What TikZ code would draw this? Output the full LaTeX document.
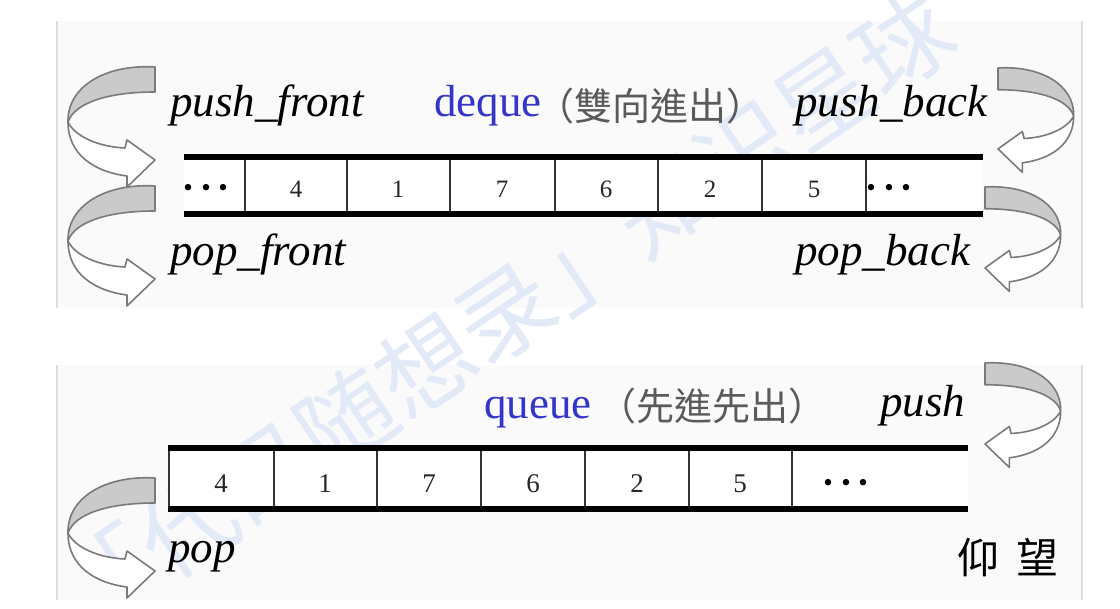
\documentclass[tikz,border=0pt]{standalone}
\usepackage{fontspec}
\setmainfont{Liberation Serif}
\newfontfamily\cjktc{Noto Sans CJK TC}
\newfontfamily\cjksc{Noto Sans CJK SC}
\definecolor{panelbg}{HTML}{FAFAFA}
\definecolor{paneledge}{HTML}{DEDEDE}
\definecolor{ribgray}{HTML}{CACACA}
\definecolor{ribline}{HTML}{7A7A7A}
\definecolor{titleblue}{HTML}{3535CC}
\definecolor{cjkgray}{HTML}{5A5A5A}
\definecolor{wmark}{HTML}{E2EAF8}
\definecolor{divider}{HTML}{333333}
\begin{document}
\begin{tikzpicture}[x=0.5pt,y=-0.5pt,
  ribbonback/.style={fill=ribgray,draw=ribline,line width=0.8pt,line join=round},
  ribbonfront/.style={fill=white,draw=ribline,line width=0.8pt,line join=round},
  oplabel/.style={font=\fontsize{22.5}{24}\selectfont\itshape,inner sep=0pt,anchor=base west},
  titlelbl/.style={font=\fontsize{22.5}{24}\selectfont,text=titleblue,inner sep=0pt,anchor=base west},
  cjklbl/.style={font=\cjktc\fontsize{19}{20}\selectfont,text=cjkgray,inner sep=0pt,anchor=base west},
  digitA/.style={font=\fontsize{12.5}{13}\selectfont,text=black!85,inner sep=0pt,anchor=base},
  digitB/.style={font=\fontsize{13.5}{14}\selectfont,text=black!85,inner sep=0pt,anchor=base},
  dotslbl/.style={font=\fontsize{27}{27}\selectfont,inner sep=0pt,anchor=base},
  railline/.style={line width=3pt,line cap=butt},
  cellline/.style={line width=0.75pt,draw=divider},
  curl/.pic={
    \path[ribbonback] (0,0) -- (0,25) .. controls (-45,25) and (-80,35) .. (-87,55)
       .. controls (-88,20) and (-50,-3) .. (0,0) -- cycle;
    \path[ribbonfront] (-87,55) .. controls (-80,70) and (-55,80) .. (-30,81)
       -- (-28,73) -- (0,93) -- (-28,120) -- (-28,109)
       .. controls (-60,105) and (-87,88) .. (-87,55) -- cycle;
  }
]
\useasboundingbox (0,0) rectangle (1120,609);
\fill[white] (0,0) rectangle (1120,609);
% panels
\fill[panelbg] (57,21) rectangle (1082,308);
\fill[panelbg] (57,365) rectangle (1082,600);
\draw[paneledge,line width=1pt] (57,21) -- (57,308) (1082,21) -- (1082,308);
\draw[paneledge,line width=1pt] (57,365) -- (57,600) (1082,365) -- (1082,600);
% watermark
\node[font=\cjksc\fontsize{48}{48}\selectfont,text=wmark,rotate=34,inner sep=0pt] (wm) at (505,312) {「代码随想录」知识星球};
% deque rails and cells
\fill[white] (184,157) rectangle (983,214);
\foreach \x in {245,347,450,555,658,762,866} \draw[cellline] (\x,157) -- (\x,214);
\draw[railline] (184,157) -- (983,157) (184,214) -- (983,214);
\node[dotslbl] (dA) at (206,206) {···};
\node[digitA] (d1) at (296,198) {4};
\node[digitA] (d2) at (398,198) {1};
\node[digitA] (d3) at (502,198) {7};
\node[digitA] (d4) at (606,198) {6};
\node[digitA] (d5) at (710,198) {2};
\node[digitA] (d6) at (814,198) {5};
\node[dotslbl] (dB) at (889,206) {···};
% deque labels
\node[oplabel] (pf) at (170,117) {push\_front};
\node[titlelbl] (dq) at (434,117) {deque};
\node[cjklbl] (dqc) at (536,121) {（雙向進出）};
\node[oplabel] (pb) at (795,117) {push\_back};
\node[oplabel] (ppf) at (170,266) {pop\_front};
\node[oplabel] (ppb) at (795,266) {pop\_back};
% deque arrows
\pic at (155,67) {curl};
\pic at (155,186) {curl};
\pic[xscale=-0.87,yscale=0.87] at (998,68) {curl};
\pic[xscale=-0.87,yscale=0.87] at (985,187) {curl};
% queue rails and cells
\fill[white] (169,448) rectangle (968,509);
\foreach \x in {169,274,377,481,585,689,792} \draw[cellline] (\x,448) -- (\x,509);
\draw[railline] (168,448) -- (968,448) (168,509) -- (968,509);
\node[digitB] (q1) at (221,493) {4};
\node[digitB] (q2) at (325,493) {1};
\node[digitB] (q3) at (429,493) {7};
\node[digitB] (q4) at (533,493) {6};
\node[digitB] (q5) at (637,493) {2};
\node[digitB] (q6) at (740,493) {5};
\node[dotslbl] (qd) at (846,500) {···};
% queue labels
\node[titlelbl] (qu) at (484,418) {queue};
\node[cjklbl] (quc) at (598,421) {（先進先出）};
\node[oplabel] (qpush) at (880,416) {push};
\node[oplabel] (qpop) at (168,562) {pop};
% queue arrows
\pic at (155,478) {curl};
\pic[xscale=-0.87,yscale=0.87] at (985,363) {curl};
% signature
\node[font=\cjksc\fontsize{21}{21}\selectfont,inner sep=0pt] (sig) at (1008,558) {仰\hspace{0.4em}望};
\end{tikzpicture}
\end{document}
